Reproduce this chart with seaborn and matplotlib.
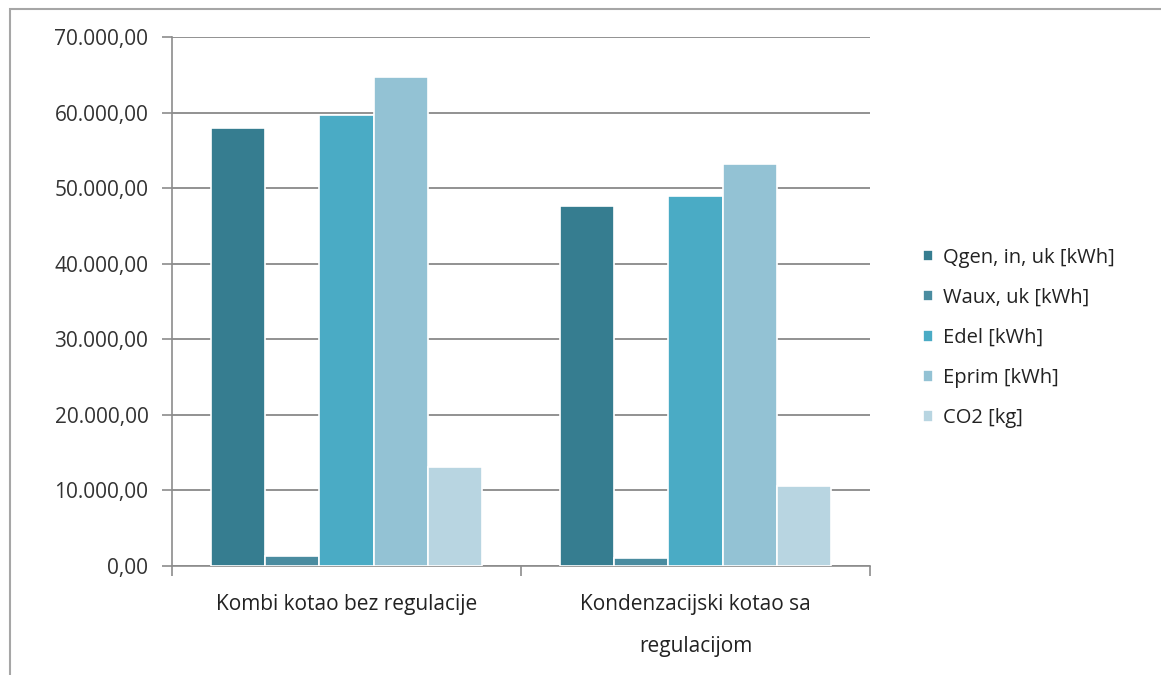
import pandas as pd
import matplotlib.pyplot as plt
import seaborn as sns
from matplotlib.ticker import FuncFormatter, FixedLocator
from matplotlib.patches import Rectangle

# ---------- DADOS ----------
kategorije = ['Kombi kotao bez regulacije', 'Kondenzacijski kotao sa\nregulacijom']
serije = ['Qgen, in, uk [kWh]', 'Waux, uk [kWh]', 'Edel [kWh]', 'Eprim [kWh]', 'CO2 [kg]']
qgen = [58000, 47650]
waux = [1300, 1000]
edel = [59650, 49000]
eprim = [64650, 53250]
co2 = [13050, 10550]
boje = ['#367d90', '#4a8ca0', '#4aabc5', '#93c2d4', '#b8d5e1']

rows = []
for s, vals in zip(serije, [qgen, waux, edel, eprim, co2]):
    for k, v in zip(kategorije, vals):
        rows.append({'Kategorija': k, 'Serija': s, 'Vrijednost': v})
df = pd.DataFrame(rows)

# ---------- STIL ----------
sns.set_style('white')
plt.rcParams['font.family'] = ['Open Sans', 'DejaVu Sans']

fig = plt.figure(figsize=(11.61, 6.75), dpi=100)
fig.patches.append(Rectangle((10 / 1161, -0.05), 1.2, 0.05 + 1 - 9 / 675, transform=fig.transFigure,
                             fill=False, edgecolor='#a6a6a6', linewidth=1.5))
ax = fig.add_axes([172 / 1161, 1 - 566 / 675, 698 / 1161, 529 / 675])

sns.barplot(data=df, x='Kategorija', y='Vrijednost', hue='Serija', order=kategorije,
            hue_order=serije, palette=boje, width=0.775, saturation=1,
            edgecolor='white', linewidth=1.2, ax=ax, legend=True, zorder=3)

ax.set_ylim(0, 70000)
ax.set_xlim(-0.5, 1.5)
ax.yaxis.set_major_locator(FixedLocator(range(0, 70001, 10000)))
ax.yaxis.set_major_formatter(FuncFormatter(lambda v, p: f'{v:,.2f}'.replace(',', 'X').replace('.', ',').replace('X', '.')))
ax.grid(axis='y', color='#7f7f7f', linewidth=1.2, zorder=0)
ax.set_axisbelow(True)

for side in ['top', 'right']:
    ax.spines[side].set_visible(False)
for side in ['left', 'bottom']:
    ax.spines[side].set_color('#8c8c8c')
    ax.spines[side].set_linewidth(1.2)

ax.tick_params(axis='y', direction='out', length=7, width=1.2, color='#8c8c8c',
               labelsize=15, labelcolor='#333333', pad=10, left=True)
ax.set_xticks([-0.5, 0.5, 1.5], minor=True)
ax.tick_params(axis='x', which='minor', direction='out', length=7, width=1.2, color='#8c8c8c', bottom=True)
ax.tick_params(axis='x', which='major', length=0, labelsize=15, labelcolor='#222222', pad=20)
for t in ax.get_xticklabels():
    t.set_linespacing(2.3)
ax.set_xlabel('')
ax.set_ylabel('')

handles, labels = ax.get_legend_handles_labels()
ax.get_legend().remove()
fig.legend(handles, labels, loc='center left', bbox_to_anchor=(905 / 1161, 1 - 338 / 675),
           frameon=False, fontsize=14.5, handlelength=0.5, handleheight=0.5, handletextpad=0.5,
           labelspacing=1.0, labelcolor='#222222')

fig.savefig('out.png', dpi=100, facecolor='white')
